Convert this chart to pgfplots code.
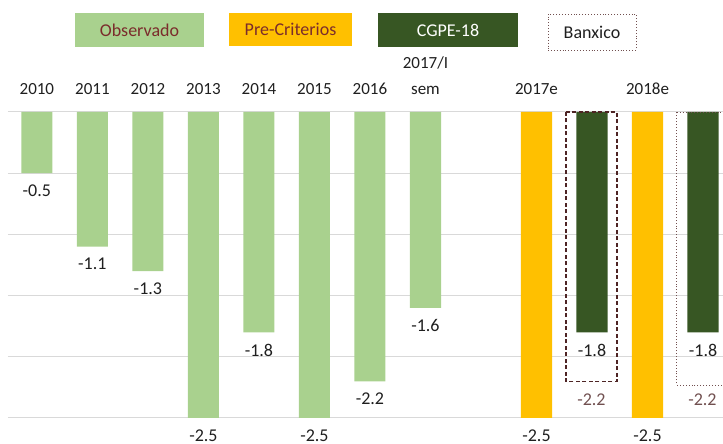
\documentclass[border=0pt]{standalone}
\usepackage{pgfplots}
\pgfplotsset{compat=1.18}
\usepackage{fontspec}
\setmainfont{Carlito}
\definecolor{obs}{HTML}{A9D18E}
\definecolor{pre}{HTML}{FFC000}
\definecolor{cgpe}{HTML}{375623}
\definecolor{banx}{HTML}{4E2424}
\definecolor{lbl}{HTML}{7B2C2C}
\definecolor{gridc}{HTML}{D9D9D9}
\definecolor{txt}{HTML}{1F1F1F}
\begin{document}
\begin{tikzpicture}[x=1pt,y=1pt]
\useasboundingbox (-8,-26) rectangle (715,418);
\begin{axis}[
 at={(0,0)}, anchor=south west, scale only axis,
 width=715pt, height=306pt,
 xmin=-0.52, xmax=12.36, ymin=-2.5, ymax=0,
 clip=false,
 axis line style={draw=none},
 major tick style={draw=none},
 ytick={-2.5,-2,-1.5,-1,-0.5,0}, yticklabels={},
 ymajorgrids, grid style={gridc, line width=1pt},
 xtick={0,1,2,3,4,5,6,7,9,11},
 xticklabels={2010,2011,2012,2013,2014,2015,2016,{2017/I\\sem},2017e,2018e},
 xticklabel pos=right,
 xticklabel style={font=\fontsize{17}{26}\selectfont, align=center, text=txt, yshift=10pt},
 ybar, bar width=0.56, bar shift=0pt,
 nodes near coords, point meta=explicit symbolic,
 every node near coord/.append style={font=\fontsize{18}{20}\selectfont, text=txt, anchor=north, yshift=-8pt},
]
\addplot[fill=obs, draw=none] coordinates {(0,-0.5)[-0.5] (1,-1.1)[-1.1] (2,-1.3)[-1.3] (3,-2.5)[-2.5] (4,-1.8)[-1.8] (5,-2.5)[-2.5] (6,-2.2)[-2.2] (7,-1.6)[-1.6]};
\addplot[fill=pre, draw=none] coordinates {(9,-2.5)[-2.5] (11,-2.5)[-2.5]};
\addplot[fill=cgpe, draw=none] coordinates {(10,-1.8)[-1.8] (12,-1.8)[-1.8]};
\addplot[fill=none, draw=banx, dash pattern=on 4pt off 2.5pt, line width=1.5pt, bar width=0.92,
  every node near coord/.append style={text=banx!80}] coordinates {(9.99,-2.2)[-2.2]};
\addplot[fill=none, draw=banx!80, dotted, line width=0.9pt, bar width=0.92,
  every node near coord/.append style={text=banx!80, yshift=3pt}] coordinates {(11.99,-2.23)[-2.2]};
\end{axis}
\node[fill=obs, minimum width=129pt, minimum height=34pt, text=lbl, font=\fontsize{18}{21}\selectfont] at (131.5,388) {Observado};
\node[fill=pre, minimum width=123pt, minimum height=33pt, text=lbl, font=\fontsize{18}{21}\selectfont] at (282.5,388.5) {Pre-Criterios};
\node[fill=cgpe, minimum width=140pt, minimum height=34pt, text=white, font=\fontsize{18}{21}\selectfont] at (440,388) {CGPE-18};
\node[draw=banx!80, dotted, line width=0.9pt, minimum width=88pt, minimum height=36pt, text=txt, font=\fontsize{18}{21}\selectfont] at (584,386) {Banxico};
\end{tikzpicture}
\end{document}
